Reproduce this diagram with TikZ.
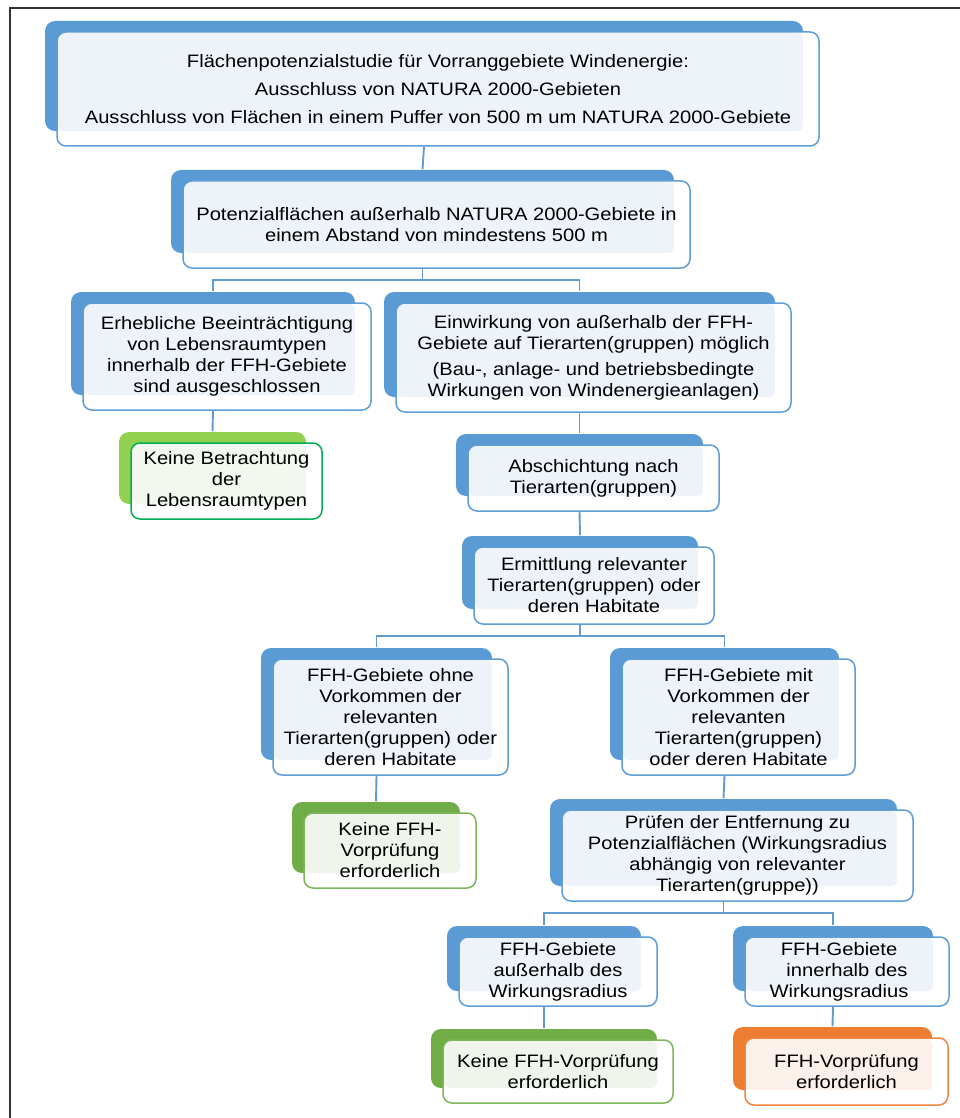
\documentclass[tikz,border=0pt]{standalone}
\usepackage{fontspec}
\setmainfont{Liberation Sans}[FakeStretch=1.12]
\usetikzlibrary{backgrounds}
\definecolor{blueD}{HTML}{5B9BD5}
\definecolor{blueB}{HTML}{5E9DD6}
\definecolor{blueL}{HTML}{EEF3FA}
\definecolor{lgreenD}{HTML}{92D050}
\definecolor{lgreenB}{HTML}{00B050}
\definecolor{lgreenL}{HTML}{F2F8EE}
\definecolor{greenD}{HTML}{70AD47}
\definecolor{greenB}{HTML}{7DB65A}
\definecolor{greenL}{HTML}{F0F5EC}
\definecolor{orangeD}{HTML}{ED7D31}
\definecolor{orangeB}{HTML}{EF8540}
\definecolor{orangeL}{HTML}{FCF0EA}
\definecolor{connC}{HTML}{6199D2}
\definecolor{frameC}{HTML}{333333}
\tikzset{
  conn/.style={draw=connC, line width=1.9pt},
  fbox/.style={line width=1.5pt, rounded corners=9pt, inner sep=0pt, align=center,
    font=\fontsize{18}{21}\selectfont},
}
\newcommand\flowbox[7]{%
  \node[fbox, draw=#6B, minimum width={(#4-#2)*1pt}, minimum height={(#5-#3)*1pt}]
    (#1) at ({(#2+#4)/2},{(#3+#5)/2}) {#7};
  \begin{pgfonlayer}{background}
    \fill[#6D, rounded corners=10pt] ({#2-12},{#3-11}) rectangle ({#4-16},{#5-15});
    \fill[white, rounded corners=9pt] (#2,#3) rectangle (#4,#5);
    \fill[#6L, rounded corners=5pt] ({#2+1},{#3+1}) rectangle ({#4-16},{#5-15});
  \end{pgfonlayer}
}
\begin{document}
\begin{tikzpicture}[x=1pt,y=-1pt]
\useasboundingbox (0,0) rectangle (960,1118);
\begin{pgfonlayer}{background}
\fill[white] (0,0) rectangle (960,1118);
\end{pgfonlayer}
\draw[frameC, line width=1.8pt] (10,1120) -- (10,8) -- (962,8);

\flowbox{b1}{57}{32}{819}{146}{blue}{Flächenpotenzialstudie für Vorranggebiete Windenergie:\\[7pt]Ausschluss von NATURA 2000-Gebieten\\[7pt]Ausschluss von Flächen in einem Puffer von 500 m um NATURA 2000-Gebiete}
\flowbox{b2}{183}{181}{690}{268}{blue}{Potenzialflächen außerhalb NATURA 2000-Gebiete in\\einem Abstand von mindestens 500 m}
\flowbox{b3}{83}{303}{371}{410}{blue}{Erhebliche Beeinträchtigung\\von Lebensraumtypen\\innerhalb der FFH-Gebiete\\sind ausgeschlossen}
\flowbox{b4}{396}{303}{791}{412}{blue}{Einwirkung von außerhalb der FFH-\\Gebiete auf Tierarten(gruppen) möglich\\[5pt](Bau-, anlage- und betriebsbedingte\\Wirkungen von Windenergieanlagen)}
\flowbox{g1}{131}{443}{322}{519}{lgreen}{Keine Betrachtung\\der\\Lebensraumtypen}
\flowbox{b5}{468}{445}{719}{511}{blue}{Abschichtung nach\\Tierarten(gruppen)}
\flowbox{b6}{474}{547}{714}{624}{blue}{Ermittlung relevanter\\Tierarten(gruppen) oder\\deren Habitate}
\flowbox{b7}{273}{659}{508}{775}{blue}{FFH-Gebiete ohne\\Vorkommen der\\relevanten\\Tierarten(gruppen) oder\\deren Habitate}
\flowbox{b8}{622}{659}{855}{775}{blue}{FFH-Gebiete mit\\Vorkommen der\\relevanten\\Tierarten(gruppen)\\oder deren Habitate}
\flowbox{g2}{304}{813}{476}{888}{green}{Keine FFH-\\Vorprüfung\\erforderlich}
\flowbox{b9}{562}{810}{913}{901}{blue}{Prüfen der Entfernung zu\\Potenzialflächen (Wirkungsradius\\abhängig von relevanter\\Tierarten(gruppe))}
\flowbox{b10}{459}{937}{657}{1006}{blue}{FFH-Gebiete\\außerhalb des\\Wirkungsradius}
\flowbox{b11}{745}{937}{949}{1006}{blue}{FFH-Gebiete\hspace*{16pt}\\innerhalb des\hspace*{16pt}\\Wirkungsradius\hspace*{16pt}}
\flowbox{g3}{443}{1040}{673}{1103}{green}{Keine FFH-Vorprüfung\\erforderlich}
\flowbox{o1}{745}{1038}{948}{1105}{orange}{FFH-Vorprüfung\\erforderlich}

\draw[conn] ([xshift=-14pt]b1.south) -- ([xshift=-14pt,yshift=11pt]b2.north);
\draw[conn] ([xshift=-14pt]b2.south) -- ++(0,11) -| ([xshift=-14pt,yshift=11pt]b3.north);
\draw[conn] ([xshift=-14pt]b2.south) -- ++(0,11) -| ([xshift=-14pt,yshift=11pt]b4.north);
\draw[conn] ([xshift=-14pt]b3.south) -- ([xshift=-14pt,yshift=11pt]g1.north);
\draw[conn] ([xshift=-14pt]b4.south) -- ([xshift=-14pt,yshift=11pt]b5.north);
\draw[conn] ([xshift=-14pt]b5.south) -- ([xshift=-14pt,yshift=11pt]b6.north);
\draw[conn] ([xshift=-14pt]b6.south) -- ++(0,11) -| ([xshift=-14pt,yshift=11pt]b7.north);
\draw[conn] ([xshift=-14pt]b6.south) -- ++(0,11) -| ([xshift=-14pt,yshift=11pt]b8.north);
\draw[conn] ([xshift=-14pt]b7.south) -- ([xshift=-14pt,yshift=11pt]g2.north);
\draw[conn] ([xshift=-14pt]b8.south) -- ([xshift=-14pt,yshift=11pt]b9.north);
\draw[conn] ([xshift=-14pt]b9.south) -- ++(0,11) -| ([xshift=-14pt,yshift=11pt]b10.north);
\draw[conn] ([xshift=-14pt]b9.south) -- ++(0,11) -| ([xshift=-14pt,yshift=11pt]b11.north);
\draw[conn] ([xshift=-14pt]b10.south) -- ([xshift=-14pt,yshift=11pt]g3.north);
\draw[conn] ([xshift=-14pt]b11.south) -- ([xshift=-14pt,yshift=11pt]o1.north);
\end{tikzpicture}
\end{document}
